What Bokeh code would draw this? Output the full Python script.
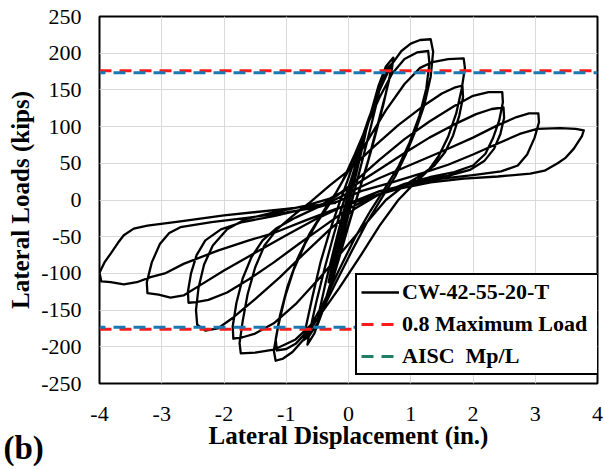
from bokeh.plotting import figure
from bokeh.models import Range1d, FixedTicker, Legend, LegendItem, Title
from bokeh.embed import file_html
from bokeh.resources import INLINE

# ---------------- data ----------------
x_ticks = [-4, -3, -2, -1, 0, 1, 2, 3, 4]
y_ticks = [-250, -200, -150, -100, -50, 0, 50, 100, 150, 200, 250]

# hysteresis trace of specimen CW-42-55-20-T, lateral displacement (in.)
disp = [
    # cycle A
    0.0, 0.1, 0.2, 0.3, 0.26, 0.15, 0.05, -0.05, -0.15, -0.25, -0.32, -0.27, -0.17, -0.07,
    # cycle B
    0.03, 0.15, 0.3, 0.42, 0.5, 0.46, 0.36, 0.24, 0.12, 0.0, -0.12, -0.26, -0.4, -0.5, -0.46, -0.36, -0.22, -0.1,
    # cycle C
    0.03, 0.18, 0.33, 0.48, 0.6, 0.72, 0.7, 0.6, 0.46, 0.32, 0.18, 0.03, -0.1, -0.25, -0.4, -0.55, -0.66, -0.63, -0.52, -0.38, -0.24, -0.1,
    # cycle D
    0.05, 0.22, 0.38, 0.53, 0.63, 0.7, 0.66, 0.56, 0.42, 0.28, 0.14, 0.0, -0.16, -0.33, -0.5, -0.64, -0.72, -0.69, -0.58, -0.45, -0.3, -0.15,
    # cycle E
    0.0, 0.15, 0.32, 0.5, 0.68, 0.85, 1.0, 1.15, 1.32, 1.36, 1.32, 1.22, 1.08, 0.92, 0.75, 0.55, 0.3, 0.05, -0.2, -0.45, -0.7, -0.9, -1.05, -1.17, -1.2, -1.13, -1.02, -0.88, -0.7, -0.5, -0.3,
    # cycle F
    -0.1, 0.1, 0.3, 0.5, 0.7, 0.9, 1.1, 1.28, 1.3, 1.25, 1.14, 0.98, 0.8, 0.6, 0.35, 0.1, -0.15, -0.4, -0.65, -0.85, -1.0, -1.15, -1.17, -1.1, -0.98, -0.82, -0.62, -0.4,
    # cycle G
    -0.2, 0.0, 0.3, 0.6, 0.9, 1.15, 1.35, 1.6, 1.85, 1.87, 1.82, 1.73, 1.6, 1.45, 1.28, 1.05, 0.8, 0.5, 0.2, -0.15, -0.5, -0.85, -1.2, -1.5, -1.73, -1.75, -1.7, -1.62, -1.5, -1.35, -1.15, -0.9, -0.6,
    # cycle H
    -0.3, 0.0, 0.4, 0.8, 1.2, 1.5, 1.7, 1.83, 1.84, 1.78, 1.68, 1.55, 1.38, 1.15, 0.9, 0.6, 0.3, -0.05, -0.45, -0.85, -1.2, -1.5, -1.7, -1.85, -1.86, -1.8, -1.7, -1.56, -1.38, -1.15, -0.85, -0.5,
    # cycle I
    -0.2, 0.1, 0.5, 0.9, 1.3, 1.7, 2.0, 2.25, 2.47, 2.48, 2.42, 2.32, 2.2, 2.0, 1.7, 1.3, 0.9, 0.5, 0.1, -0.3, -0.7, -1.1, -1.5, -1.85, -2.1, -2.3, -2.43, -2.45, -2.41, -2.32, -2.18, -1.95, -1.65, -1.2, -0.7,
    # cycle J
    -0.3, 0.1, 0.5, 0.9, 1.3, 1.7, 2.05, 2.3, 2.49, 2.5, 2.44, 2.34, 2.18, 1.95, 1.6, 1.2, 0.8, 0.4, 0.0, -0.4, -0.8, -1.2, -1.6, -1.95, -2.25, -2.45, -2.57, -2.58, -2.53, -2.44, -2.3, -2.05, -1.7, -1.2, -0.7,
    # cycle K
    -0.3, 0.1, 0.5, 1.0, 1.5, 2.0, 2.4, 2.7, 2.9, 3.05, 3.06, 2.99, 2.87, 2.72, 2.45, 2.0, 1.5, 1.0, 0.5, 0.0, -0.5, -1.0, -1.5, -2.0, -2.4, -2.65, -2.86, -3.05, -3.23, -3.24, -3.16, -3.03, -2.88, -2.7, -2.2, -1.6, -1.0, -0.5,
    # cycle L
    -0.2, 0.2, 0.7, 1.2, 1.6, 2.0, 2.4, 2.75, 3.03, 3.4, 3.65, 3.78, 3.75, 3.62, 3.48, 3.36, 3.15, 2.92, 2.4, 1.85, 1.32, 0.8, 0.3, -0.2, -0.7, -1.2, -1.6, -2.1, -2.65, -2.95, -3.18, -3.4, -3.61, -3.82, -3.97, -4.0, -3.92, -3.82, -3.7, -3.61, -3.45, -3.23, -2.7, -2.0, -1.0, -0.2,
]

# lateral load (kips)
load = [
    # cycle A
    0, 35, 70, 103, 85, 45, 10, -25, -60, -95, -112, -92, -55, -20,
    # cycle B
    15, 55, 100, 135, 152, 135, 100, 60, 20, -20, -60, -105, -145, -165, -148, -110, -62, -22,
    # cycle C
    18, 65, 110, 155, 182, 194, 180, 145, 100, 55, 15, -25, -62, -105, -148, -182, -197, -182, -140, -92, -48, -8,
    # cycle D
    30, 78, 122, 162, 180, 186, 168, 130, 85, 42, 5, -35, -82, -130, -168, -186, -191, -175, -132, -85, -42, -5,
    # cycle E
    30, 68, 110, 150, 183, 203, 213, 218, 219, 202, 168, 130, 95, 62, 32, 5, -30, -70, -112, -155, -188, -207, -216, -219, -205, -172, -132, -95, -60, -30, -5,
    # cycle F
    25, 62, 102, 140, 172, 192, 201, 203, 186, 152, 115, 78, 45, 18, -15, -52, -95, -140, -178, -196, -203, -205, -190, -157, -118, -80, -45, -15,
    # cycle G
    10, 40, 80, 122, 158, 180, 188, 192, 193, 180, 152, 118, 86, 60, 40, 22, 0, -35, -75, -120, -162, -190, -204, -208, -209, -195, -165, -128, -92, -62, -40, -22, -2,
    # cycle H
    20, 40, 72, 102, 128, 145, 153, 156, 140, 115, 88, 65, 47, 33, 20, 0, -30, -65, -105, -142, -168, -182, -187, -189, -172, -140, -107, -78, -55, -38, -24, -10,
    # cycle I
    5, 25, 55, 83, 107, 128, 142, 147, 147, 133, 108, 84, 63, 47, 38, 31, 22, 8, -12, -40, -72, -105, -135, -160, -175, -178, -170, -150, -120, -88, -62, -40, -26, -17, -8,
    # cycle J
    2, 20, 42, 64, 85, 103, 117, 124, 126, 112, 90, 70, 53, 41, 33, 27, 18, 5, -12, -36, -60, -85, -108, -126, -136, -139, -140, -125, -100, -75, -55, -40, -30, -22, -12,
    # cycle K
    -3, 14, 30, 48, 66, 85, 102, 113, 118, 118, 106, 85, 62, 47, 39, 34, 29, 22, 12, -5, -25, -48, -72, -96, -117, -130, -133, -129, -127, -112, -85, -60, -45, -37, -30, -24, -17, -10,
    # cycle L
    -3, 12, 24, 37, 48, 62, 77, 90, 97, 98, 97, 95, 87, 70, 57, 50, 40, 36, 32, 29, 24, 15, 3, -12, -28, -45, -55, -69, -87, -100, -105, -112, -115, -112, -111, -99, -85, -73, -58, -48, -39, -35, -29, -21, -12, -4,
]

max_load_08 = 176.0      # 0.8 x maximum load (kips)
aisc_mp_l = 173.5        # AISC Mp/L (kips)

series_labels = ["CW-42-55-20-T", "0.8 Maximum Load", "AISC  Mp/L"]
x_title = "Lateral Displacement (in.)"
y_title = "Lateral Loads (kips)"
panel_tag = "(b)"

# ---------------- figure ----------------
SERIF = "Liberation Serif"
x_lo, x_hi = -4, 4
y_lo, y_hi = -250, 250
NAN = float("nan")

p = figure(width=604, height=468, output_backend="svg", toolbar_location=None,
           x_range=Range1d(x_lo, x_hi), y_range=Range1d(y_lo, y_hi),
           min_border_left=99, min_border_right=7, min_border_top=16, min_border_bottom=85)
p.background_fill_color = "white"
p.border_fill_color = "white"
p.outline_line_color = "black"
p.outline_line_width = 2

p.xaxis.ticker = FixedTicker(ticks=x_ticks)
p.yaxis.ticker = FixedTicker(ticks=y_ticks)
p.xaxis.major_label_overrides = {t: str(t) for t in x_ticks}
p.yaxis.major_label_overrides = {t: str(t) for t in y_ticks}
for ax in (p.xaxis[0], p.yaxis[0]):
    ax.axis_line_color = None
    ax.major_tick_line_color = None
    ax.minor_tick_line_color = None
    ax.major_tick_out = 0
    ax.major_tick_in = 0
    ax.major_label_text_font = SERIF
    ax.major_label_text_font_size = "22px"
    ax.major_label_text_color = "black"
    ax.axis_label_text_font = SERIF
    ax.axis_label_text_font_style = "bold"
    ax.axis_label_text_font_size = "25px"
    ax.axis_label_text_color = "black"
p.yaxis.axis_label = y_title
p.xaxis.major_label_standoff = 23
p.yaxis.major_label_standoff = 18
p.yaxis.axis_label_standoff = 4

p.xgrid.grid_line_color = "#d9d9d9"
p.ygrid.grid_line_color = "#d9d9d9"
p.xgrid.grid_line_width = 1
p.ygrid.grid_line_width = 1

# hysteresis curve
r_curve = p.line(disp, load, line_color="black", line_width=2.3, line_join="round")

# reference lines
xs = [x_lo, x_hi]
RED = "#ff1a1a"
TEAL_PLOT = "#1a78b4"
TEAL_LEG = "#1f7f66"
for sgn in (1, -1):
    p.line(xs, [sgn * max_load_08] * 2, line_color=RED, line_width=3, line_dash="12 8")
    p.line(xs, [sgn * aisc_mp_l] * 2, line_color=TEAL_PLOT, line_width=3, line_dash="12 8",
           line_dash_offset=6)

# legend proxies (not visible in the plot area)
r_red = p.line([NAN], [NAN], line_color=RED, line_width=3, line_dash="12 8")
r_teal = p.line([NAN], [NAN], line_color=TEAL_LEG, line_width=3, line_dash="12 8")

legend = Legend(items=[LegendItem(label=series_labels[0], renderers=[r_curve]),
                       LegendItem(label=series_labels[1], renderers=[r_red]),
                       LegendItem(label=series_labels[2], renderers=[r_teal])],
                location=(256, 8))
legend.label_text_font = SERIF
legend.label_text_font_style = "bold"
legend.label_text_font_size = "22px"
legend.label_text_color = "black"
legend.glyph_width = 38
legend.glyph_height = 26
legend.label_height = 26
legend.label_width = 192
legend.label_standoff = 3
legend.spacing = 6
legend.padding = 4
legend.margin = 0
legend.border_line_color = "black"
legend.border_line_alpha = 1
legend.border_line_width = 2
legend.background_fill_color = "white"
legend.background_fill_alpha = 1
p.add_layout(legend, "center")

# x-axis title and panel tag, stacked under the x axis
t_x = Title(text=x_title, align="center", vertical_align="middle", standoff=-5,
            text_font=SERIF, text_font_style="bold", text_font_size="25px", text_color="black")
t_b = Title(text=panel_tag, align="left", vertical_align="middle", standoff=-38.5, offset=-96,
            text_font=SERIF, text_font_style="bold", text_font_size="33px", text_color="black")
p.add_layout(t_x, "below")
p.add_layout(t_b, "below")

open("out.html", "w").write(file_html(p, INLINE))
